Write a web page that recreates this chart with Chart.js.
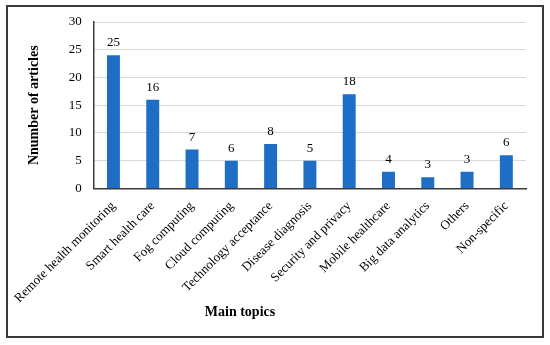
<!DOCTYPE html>
<html>
<head>
<meta charset="utf-8">
<script src="https://cdn.jsdelivr.net/npm/chart.js@4"></script>
<style>
  html, body { margin: 0; padding: 0; background: #fff; }
  #wrap { width: 550px; height: 345px; }
</style>
</head>
<body>
<div id="wrap"><canvas id="chart" width="550" height="345"></canvas></div>
<script>
// Dados
const topicos = ['Remote health monitoring', 'Smart health care', 'Fog computing', 'Cloud computing',
    'Technology acceptance', 'Disease diagnosis', 'Security and privacy', 'Mobile healthcare',
    'Big data analytics', 'Others', 'Non-specific'];
// altura das barras (como desenhadas)
const alturas = [24, 16, 7, 5, 8, 5, 17, 3, 2, 3, 6];
// rótulos impressos acima das barras
const rotulos = ['25', '16', '7', '6', '8', '5', '18', '4', '3', '3', '6'];
const ticksY = [0, 5, 10, 15, 20, 25, 30];

const fonte = '"Liberation Serif", "Times New Roman", serif';

// borda externa e título do eixo x
const molduraPlugin = {
    id: 'moldura',
    beforeDraw(chart) {
        const ctx = chart.ctx;
        ctx.save();
        ctx.fillStyle = '#fff';
        ctx.fillRect(0, 0, chart.width, chart.height);
        ctx.strokeStyle = '#3a3a3a';
        ctx.lineWidth = 2;
        ctx.strokeRect(7, 6, 536, 331);
        ctx.restore();
    },
    afterDraw(chart) {
        const ctx = chart.ctx;
        ctx.save();
        ctx.font = 'bold 14px ' + fonte;
        ctx.fillStyle = '#000';
        ctx.textAlign = 'center';
        ctx.textBaseline = 'middle';
        ctx.fillText('Main topics', 240, 312);
        ctx.restore();
    }
};

// rótulos de valor acima das barras
const rotulosPlugin = {
    id: 'rotulos',
    afterDatasetsDraw(chart) {
        const ctx = chart.ctx;
        const meta = chart.getDatasetMeta(0);
        ctx.save();
        ctx.font = '13px ' + fonte;
        ctx.fillStyle = '#000';
        ctx.textAlign = 'center';
        ctx.textBaseline = 'bottom';
        meta.data.forEach((bar, i) => {
            ctx.fillText(rotulos[i], bar.x, bar.y - 6);
        });
        ctx.restore();
    }
};

new Chart(document.getElementById('chart'), {
    type: 'bar',
    data: {
        labels: topicos,
        datasets: [{
            data: alturas,
            backgroundColor: '#1F6EC6',
            categoryPercentage: 1,
            barPercentage: 0.33
        }]
    },
    options: {
        responsive: false,
        animation: false,
        layout: { padding: { left: 26, right: 24, top: 22, bottom: 29 } },
        plugins: {
            legend: { display: false },
            tooltip: { enabled: false }
        },
        scales: {
            x: {
                grid: { display: false, drawTicks: false },
                border: { color: '#3a3a3a', width: 1.5 },
                ticks: {
                    color: '#000',
                    font: { family: fonte, size: 13 },
                    minRotation: 45,
                    maxRotation: 45,
                    padding: 10,
                    autoSkip: false
                }
            },
            y: {
                min: 0,
                max: 30,
                afterBuildTicks(axis) {
                    axis.ticks = ticksY.map(v => ({ value: v }));
                },
                grid: { color: '#d9d9d9', drawTicks: false },
                border: { color: '#3a3a3a', width: 1.5 },
                ticks: {
                    color: '#000',
                    font: { family: fonte, size: 13 },
                    padding: 12
                },
                title: {
                    display: true,
                    text: 'Nnumber of articles',
                    color: '#000',
                    font: { family: fonte, size: 14, weight: 'bold' },
                    padding: { top: 0, bottom: 14 }
                }
            }
        }
    },
    plugins: [molduraPlugin, rotulosPlugin]
});
</script>
</body>
</html>
